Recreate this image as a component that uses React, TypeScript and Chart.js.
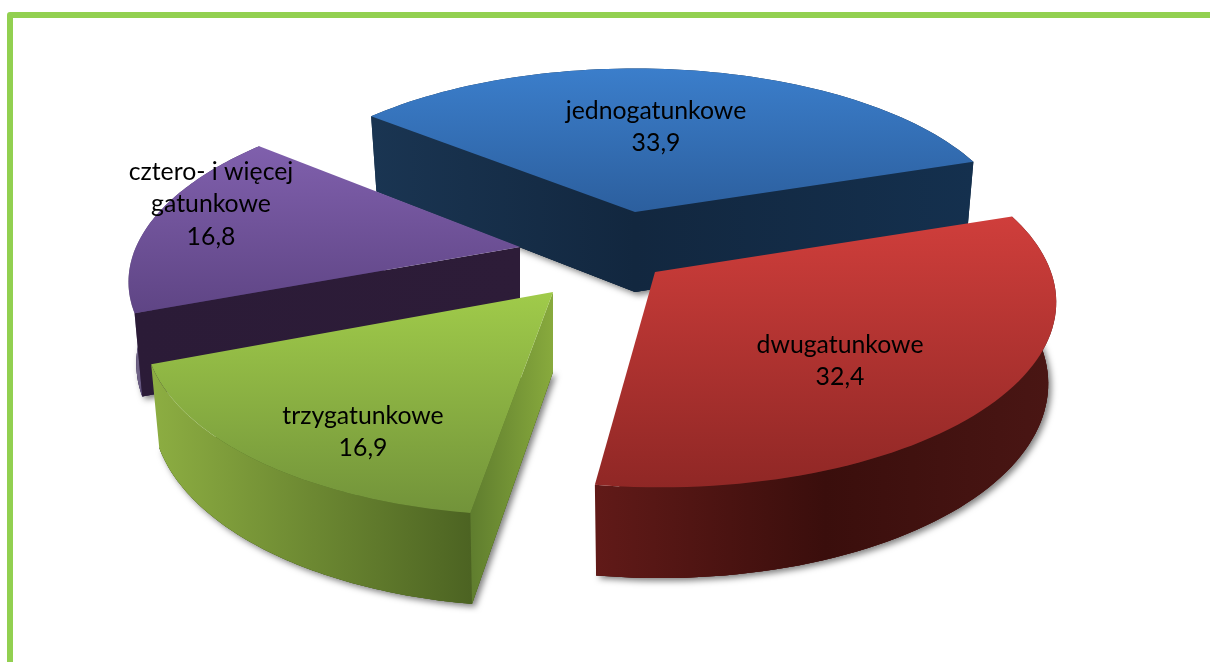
import React, { useEffect, useRef } from "react";
import { Chart, registerables } from "chart.js";

Chart.register(...registerables);

const categories = ["jednogatunkowe", "dwugatunkowe", "trzygatunkowe", "cztero- i więcej gatunkowe"];
const shares = [33.9, 32.4, 16.9, 16.8];
const labelLines = [["jednogatunkowe"], ["dwugatunkowe"], ["trzygatunkowe"], ["cztero- i więcej", "gatunkowe"]];
const sliceColors = ["#3470b4", "#b03533", "#8cb043", "#6d4f97"];

// Per-slice camera view of the tilted, exploded pie (style only, angles come from the chart).
const views = [
  { ax: 635, ay: 212, fx: 374, fy: 165, kx: 0, lx: 656, ly: 111 },
  { ax: 655, ay: 272, fx: 396, fy: 183, kx: 4.5, lx: 840, ly: 345 },
  { ax: 553, ay: 292, fx: 402, fy: 190, kx: -14, lx: 363, ly: 416 },
  { ax: 520, ay: 247, fx: 384, fy: 174, kx: -17.6, lx: 211, ly: 172 },
];
const PERSPECTIVE = 0.15;
const DEPTH = 80;
const DEPTH_SX = 0.98;
const DEPTH_SY = 1.05;

const purpleRim = ["#8f8c96", "#4f3a75", "#4f3a75", "#4a3670", "#46336a", "#423064", "#3e2d5e", "#3a2a58"];
const skins = [
  { topA: "#3b7ecb", topB: "#2c5f9e", topY0: 68, topY1: 212, rim: ["#1a3552", "#12273f"], startFace: ["#1a3552", "#12273f"], endFace: ["#12273f", "#14304e"] },
  { topA: "#cf3e3b", topB: "#8f2725", topY0: 218, topY1: 490, rim: ["#611a18", "#3a0e0c", "#4a1614"], startFace: ["#3a0e0c", "#3a0e0c"], endFace: ["#611a18", "#611a18"] },
  { topA: "#a0cb4a", topB: "#72933a", topY0: 292, topY1: 513, rim: ["#8dae42", "#4c6322"], startFace: ["#5f7d2e", "#88aa3d"], endFace: ["#8dae42", "#8dae42"] },
  { topA: "#8060ad", topB: "#5f4585", topY0: 144, topY1: 312, rim: purpleRim, startFace: ["#2b1b37", "#2d1c38"], endFace: ["#2b1b37", "#2d1c38"] },
];

type P = [number, number];

function project(i: number, theta: number, r: number, bottom: boolean): P {
  const v = views[i];
  const X = Math.cos(theta) * r;
  const Y = Math.sin(theta) * r;
  const w = 1 - PERSPECTIVE * Y;
  const sx = bottom ? DEPTH_SX : 1;
  const sy = bottom ? DEPTH_SY : 1;
  return [v.ax + ((v.fx * X + v.kx * Y) * sx) / w, v.ay + (bottom ? DEPTH : 0) + (v.fy * Y * sy) / w];
}

function rimPoints(i: number, a0: number, a1: number, bottom: boolean): P[] {
  const steps = 72;
  const out: P[] = [];
  for (let s = 0; s <= steps; s++) out.push(project(i, a0 + ((a1 - a0) * s) / steps, 1, bottom));
  return out;
}

function fillPoly(ctx: CanvasRenderingContext2D, pts: P[], fill: string | CanvasGradient) {
  ctx.beginPath();
  pts.forEach((p, k) => (k ? ctx.lineTo(p[0], p[1]) : ctx.moveTo(p[0], p[1])));
  ctx.closePath();
  ctx.fillStyle = fill;
  ctx.fill();
}

function hGrad(ctx: CanvasRenderingContext2D, pts: P[], stops: string[]) {
  const xs = pts.map((p) => p[0]);
  const g = ctx.createLinearGradient(Math.min(...xs), 0, Math.max(...xs), 0);
  stops.forEach((c, k) => g.addColorStop(k / (stops.length - 1), c));
  return g;
}

// A flat cut face shows only if moving down from its top edge leaves the slice's top surface.
function faceVisible(apex: P, end: P, inner: P) {
  const ex = end[0] - apex[0];
  const ey = end[1] - apex[1];
  const crossDown = ex;
  const crossInner = ex * (inner[1] - apex[1]) - ey * (inner[0] - apex[0]);
  return crossDown * crossInner < 0;
}

const pie3d = {
  id: "pie3d",
  beforeDatasetsDraw(chart: any) {
    const ctx: CanvasRenderingContext2D = chart.ctx;
    const arcs = chart.getDatasetMeta(0).data;
    const order = [0, 3, 1, 2];
    ctx.save();
    order.forEach((i) => {
      const { startAngle, endAngle } = arcs[i].getProps(["startAngle", "endAngle"], true);
      const apexT = project(i, 0, 0, false);
      const apexB = project(i, 0, 0, true);
      const topRim = rimPoints(i, startAngle, endAngle, false);
      const botRim = rimPoints(i, startAngle, endAngle, true);
      const skin = skins[i];
      const mid = topRim[36];
      const rimWall = [...topRim, ...[...botRim].reverse()];
      const startEnd = topRim[0];
      const lastEnd = topRim[topRim.length - 1];
      const startWall: P[] = [apexT, startEnd, botRim[0], apexB];
      const endWall: P[] = [apexT, lastEnd, botRim[botRim.length - 1], apexB];
      const bottomFace: P[] = [apexB, ...botRim];
      const baseColor = skin.rim[skin.rim.length - 1];

      // soft drop shadow under the solid
      ctx.save();
      ctx.shadowColor = "rgba(0,0,0,0.5)";
      ctx.shadowBlur = 6;
      ctx.shadowOffsetX = 3;
      ctx.shadowOffsetY = 3;
      fillPoly(ctx, bottomFace, baseColor);
      ctx.restore();

      fillPoly(ctx, bottomFace, baseColor);
      fillPoly(ctx, rimWall, hGrad(ctx, rimWall, skin.rim));
      if (faceVisible(apexT, startEnd, mid)) fillPoly(ctx, startWall, hGrad(ctx, startWall, skin.startFace));
      if (faceVisible(apexT, lastEnd, mid)) fillPoly(ctx, endWall, hGrad(ctx, endWall, skin.endFace));

      const topFace: P[] = [apexT, ...topRim];
      const g = ctx.createLinearGradient(0, skin.topY0, 0, skin.topY1);
      g.addColorStop(0, skin.topA);
      g.addColorStop(1, skin.topB);
      fillPoly(ctx, topFace, g);
    });
    ctx.restore();
    return false;
  },
  afterDraw(chart: any) {
    const ctx: CanvasRenderingContext2D = chart.ctx;
    const values: number[] = chart.data.datasets[0].data;
    ctx.save();
    ctx.fillStyle = "#000000";
    ctx.font = "24.8px Lato";
    ctx.textAlign = "center";
    ctx.textBaseline = "middle";
    values.forEach((val, i) => {
      const lines = [...labelLines[i], val.toFixed(1).replace(".", ",")];
      lines.forEach((t, k) => ctx.fillText(t, views[i].lx, views[i].ly + k * 32.5));
    });
    ctx.restore();
  },
};

export default function App() {
  const ref = useRef<HTMLCanvasElement>(null);
  useEffect(() => {
    document.body.style.margin = "0";
    document.body.style.overflow = "hidden";
    document.body.style.background = "#ffffff";
    const chart = new Chart(ref.current!, {
      type: "pie",
      data: {
        labels: categories,
        datasets: [{ data: shares, backgroundColor: sliceColors, borderWidth: 0 }],
      },
      options: {
        responsive: false,
        animation: false,
        rotation: -50.6,
        plugins: { legend: { display: false }, tooltip: { enabled: false } },
      },
      plugins: [pie3d],
    } as any);
    return () => chart.destroy();
  }, []);
  return (
    <div style={{ position: "fixed", left: 0, top: 0, width: 1210, height: 662, overflow: "hidden", background: "#fff" }}>
      <canvas ref={ref} width={1210} height={662} style={{ position: "absolute", left: 0, top: 0, display: "block" }} />
      <div
        style={{
          position: "absolute",
          left: 7,
          top: 12,
          width: 1300,
          height: 800,
          border: "6px solid #92d050",
          borderRadius: 3,
          boxSizing: "border-box",
        }}
      />
    </div>
  );
}
